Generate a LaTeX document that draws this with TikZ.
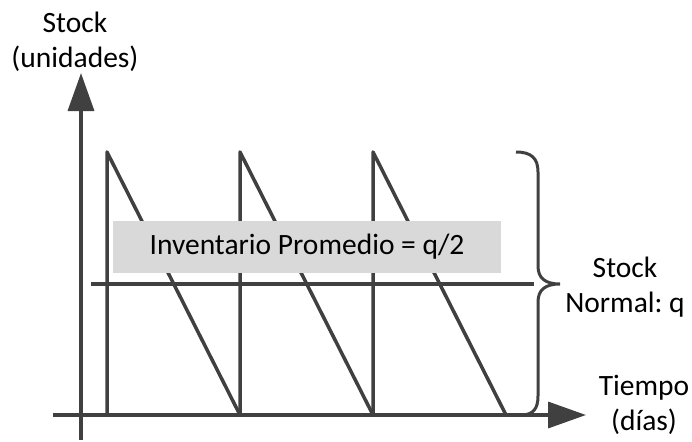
\documentclass[tikz,border=0pt]{standalone}
\usepackage{fontspec}
\setmainfont{Carlito}
\usetikzlibrary{arrows.meta}

\definecolor{axisgray}{RGB}{64,64,64}
\definecolor{boxgray}{RGB}{217,217,217}
\tikzset{every picture/.style={line width=0.75pt}}
\tikzset{
  plotline/.style={color=axisgray, line width=3.5, line join=round},
  axisarrow/.style={plotline, -{Triangle[width=26pt,length=38pt]}},
  lbl/.style={align=center, font=\fontsize{29.5}{35}\selectfont\frenchspacing, text=black},
  avgbox/.style={lbl, fill=boxgray, minimum width=388, minimum height=52, inner sep=0},
}

\begin{document}
\begin{tikzpicture}[x=1pt,y=1pt,yscale=-1,xscale=1]
\useasboundingbox (0,0) rectangle (692,441);

%Shape: Sawtooth
\foreach \x in {107,240,373}
  \draw [plotline] (\x,415) -- (\x,152) -- (\x+133,415) ;

%Shape: Axis 2D
\draw [axisarrow] (81,440) -- (81,73) ;
\draw [axisarrow] (53,415) -- (586,415) ;

% Text Node
\node (avg) [avgbox] at (307,247) {Inventario Promedio = q/2};

%Straight Lines
\draw [plotline] (91,284) -- (534,284) ;

%Shape: Brace
\draw [color=axisgray, line width=3] (516,152) .. controls (531,152) and (538,158) .. (538,172) -- (538,266) .. controls (538,278) and (545,284) .. (560,284) .. controls (545,284) and (538,290) .. (538,302) -- (538,396) .. controls (538,409) and (533,415) .. (521,415) ;

% Text Node
\node (stocklbl) [lbl] at (75,42) {Stock\\(unidades)};
% Text Node
\node (normallbl) [lbl] at (625,287) {Stock\\Normal: q};
% Text Node
\node (timelbl) [lbl] at (644,405) {Tiempo\\(días)};

\end{tikzpicture}
\end{document}
